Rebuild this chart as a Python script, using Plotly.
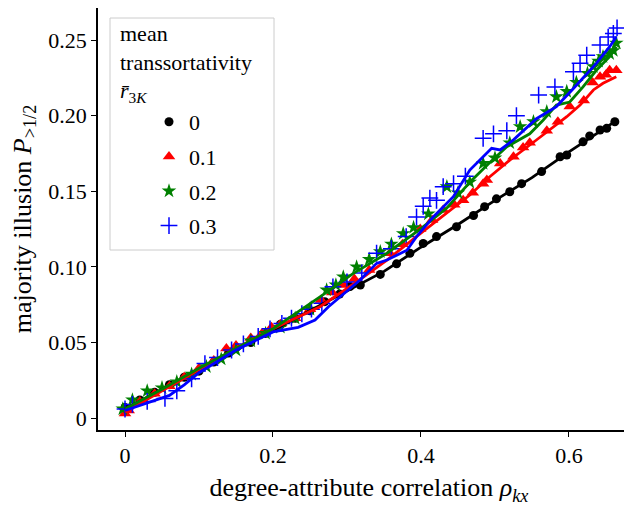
import plotly.graph_objects as go

# values
LABELS = ["0", "0.1", "0.2", "0.3"]
COLORS = ["black", "red", "green", "blue"]
SYMBOLS = ["circle", "triangle-up", "star", "cross-thin"]

# markers (simulation points)
x0 = [0.0, 0.02, 0.04, 0.06, 0.08, 0.10, 0.12, 0.14, 0.17, 0.19, 0.21, 0.23, 0.25, 0.27, 0.29,
      0.304, 0.318, 0.345, 0.367, 0.385, 0.403, 0.421, 0.448, 0.471, 0.486, 0.502, 0.520, 0.536,
      0.563, 0.588, 0.597, 0.619, 0.628, 0.642, 0.651, 0.662]
y0 = [0.007, 0.012, 0.017, 0.022, 0.027, 0.031, 0.037, 0.043, 0.050, 0.056, 0.062, 0.066, 0.071,
      0.077, 0.082, 0.087, 0.088, 0.095, 0.102, 0.109, 0.1155, 0.120, 0.1265, 0.134, 0.1398, 0.145,
      0.1497, 0.155, 0.163, 0.1728, 0.174, 0.1827, 0.1866, 0.1905, 0.1916, 0.196]

x1 = [0.0, 0.005, 0.02, 0.04, 0.06, 0.08, 0.10, 0.12, 0.137, 0.15, 0.17, 0.185, 0.198, 0.21, 0.23,
      0.25, 0.265, 0.28, 0.295, 0.31, 0.33, 0.358, 0.375, 0.399, 0.415, 0.430, 0.445, 0.457, 0.470,
      0.484, 0.489, 0.507, 0.525, 0.538, 0.547, 0.570, 0.585, 0.601, 0.62, 0.632, 0.642, 0.650,
      0.655, 0.664]
y1 = [0.003, 0.005, 0.011, 0.016, 0.021, 0.027, 0.033, 0.038, 0.046, 0.048, 0.053, 0.056, 0.060,
      0.062, 0.066, 0.072, 0.078, 0.083, 0.088, 0.092, 0.098, 0.109, 0.115, 0.125, 0.131, 0.1376,
      0.141, 0.144, 0.149, 0.155, 0.1574, 0.1684, 0.1728, 0.179, 0.182, 0.190, 0.196, 0.206, 0.210,
      0.222, 0.2257, 0.227, 0.230, 0.230]

x2 = [-0.003, 0.01, 0.03, 0.05, 0.07, 0.09, 0.11, 0.13, 0.15, 0.17, 0.19, 0.21, 0.23, 0.25, 0.2725,
      0.285, 0.295, 0.313, 0.33, 0.345, 0.36, 0.376, 0.39, 0.41, 0.435, 0.45, 0.466, 0.484, 0.50,
      0.52, 0.534, 0.552, 0.570, 0.583, 0.597, 0.61, 0.625, 0.633, 0.64, 0.646, 0.655, 0.66, 0.664]
y2 = [0.006, 0.012, 0.018, 0.020, 0.024, 0.029, 0.034, 0.039, 0.045, 0.051, 0.056, 0.060, 0.066,
      0.072, 0.0847, 0.088, 0.0934, 0.100, 0.105, 0.110, 0.115, 0.122, 0.126, 0.135, 0.153, 0.149,
      0.156, 0.1684, 0.172, 0.182, 0.1927, 0.196, 0.2026, 0.2125, 0.216, 0.222, 0.228, 0.2324,
      0.236, 0.239, 0.241, 0.243, 0.248]

x3 = [0.0, 0.01, 0.03, 0.054, 0.07, 0.09, 0.108, 0.125, 0.144, 0.16, 0.18, 0.196, 0.212, 0.225,
      0.239, 0.252, 0.266, 0.281, 0.30, 0.32, 0.340, 0.36, 0.38, 0.394, 0.403, 0.412, 0.421, 0.430,
      0.444, 0.46, 0.484, 0.498, 0.516, 0.529, 0.559, 0.581, 0.606, 0.615, 0.624, 0.642, 0.653,
      0.66, 0.665]
y3 = [0.006, 0.009, 0.011, 0.013, 0.018, 0.026, 0.036, 0.040, 0.045, 0.049, 0.054, 0.059, 0.0626,
      0.066, 0.069, 0.072, 0.0759, 0.0868, 0.090, 0.096, 0.109, 0.112, 0.120, 0.133, 0.140, 0.1455,
      0.144, 0.153, 0.155, 0.160, 0.185, 0.188, 0.190, 0.200, 0.2136, 0.219, 0.229, 0.2346, 0.240,
      0.2467, 0.252, 0.2544, 0.258]

# smoothed curves
lx0 = [0, 0.05, 0.1, 0.15, 0.2, 0.25, 0.3, 0.35, 0.4, 0.45, 0.5, 0.55, 0.6, 0.65, 0.665]
ly0 = [0.006, 0.019, 0.032, 0.045, 0.058, 0.071, 0.084, 0.097, 0.113, 0.128, 0.144, 0.159, 0.176,
       0.192, 0.197]

lx1 = [0, 0.05, 0.1, 0.15, 0.2, 0.2635, 0.31, 0.354, 0.399, 0.435, 0.466, 0.493, 0.520, 0.556,
       0.597, 0.615, 0.633, 0.646, 0.664]
ly1 = [0.004, 0.018, 0.032, 0.046, 0.059, 0.0736, 0.089, 0.1045, 0.122, 0.1354, 0.1475, 0.1596,
       0.1706, 0.1839, 0.1993, 0.207, 0.217, 0.2214, 0.2257]

lx2 = [0, 0.05, 0.1, 0.15, 0.2, 0.2635, 0.3086, 0.354, 0.399, 0.435, 0.468, 0.493, 0.516, 0.547,
       0.565, 0.583, 0.601, 0.619, 0.637, 0.655, 0.664]
ly2 = [0.006, 0.019, 0.033, 0.046, 0.059, 0.0802, 0.0957, 0.109, 0.125, 0.139, 0.157, 0.169,
       0.1794, 0.188, 0.197, 0.207, 0.209, 0.219, 0.230, 0.239, 0.2456]

lx3 = [0, 0.03, 0.06, 0.08, 0.1, 0.15, 0.2, 0.234, 0.2568, 0.275, 0.3176, 0.340, 0.354, 0.381,
       0.394, 0.4166, 0.4437, 0.466, 0.4955, 0.507, 0.525, 0.556, 0.583, 0.606, 0.637, 0.655, 0.664]
ly3 = [0.005, 0.010, 0.015, 0.022, 0.030, 0.045, 0.057, 0.060, 0.0648, 0.0736, 0.0913, 0.1023,
       0.1045, 0.111, 0.120, 0.133, 0.1464, 0.164, 0.1784, 0.1773, 0.184, 0.198, 0.206, 0.218,
       0.2346, 0.2456, 0.252]

XTICKS = [0, 0.2, 0.4, 0.6]
XTICKTEXT = ["0", "0.2", "0.4", "0.6"]
YTICKS = [0, 0.05, 0.10, 0.15, 0.20, 0.25]
YTICKTEXT = ["0", "0.05", "0.10", "0.15", "0.20", "0.25"]

FONT = "Liberation Serif"
FS = 22
PW, PH = 542, 422  # plot area size in px
points = [(x0, y0), (x1, y1), (x2, y2), (x3, y3)]
curves = [(lx0, ly0), (lx1, ly1), (lx2, ly2), (lx3, ly3)]
sizes = [9, 11, 11, 12]

fig = go.Figure()

for i, (px, py) in enumerate(points):
    marker = dict(color=COLORS[i], symbol=SYMBOLS[i], size=sizes[i])
    if SYMBOLS[i] == "cross-thin":
        marker["line"] = dict(color=COLORS[i], width=1.5)
    fig.add_trace(go.Scatter(x=px, y=py, mode="markers", name=LABELS[i], marker=marker,
                             legendgroup=LABELS[i]))

for i, (cx, cy) in enumerate(curves):
    fig.add_trace(go.Scatter(x=cx, y=cy, mode="lines", line=dict(color=COLORS[i], width=2.8),
                             showlegend=False, hoverinfo="skip"))

# legend frame and title (matplotlib style)
fig.add_shape(type="rect", xref="paper", yref="paper", x0=12 / PW, x1=176 / PW,
              y0=1 - 242 / PH, y1=1 - 10 / PH, line=dict(color="#cccccc", width=1),
              fillcolor="rgba(255,255,255,0.8)", layer="below")
fig.add_annotation(xref="paper", yref="paper", x=20 / PW, y=1 - 11 / PH, xanchor="left",
                   yanchor="top", align="left", showarrow=False,
                   text="mean<br>transsortativity<br><i>r̄</i><sub>3<i>K</i></sub>",
                   font=dict(family=FONT, size=FS, color="black"))

fig.update_layout(
    width=632, height=506,
    margin=dict(l=90, r=0, t=0, b=84),
    plot_bgcolor="white", paper_bgcolor="white",
    font=dict(family=FONT, size=FS, color="black"),
    showlegend=True,
    legend=dict(x=51 / PW, y=1 - 93 / PH, xanchor="left", yanchor="top",
                bgcolor="rgba(0,0,0,0)", borderwidth=0, tracegroupgap=3,
                font=dict(family=FONT, size=FS)),
    xaxis=dict(range=[-0.0365, 0.696], tickvals=XTICKS, ticktext=XTICKTEXT,
               showgrid=False, zeroline=False, showline=True, linecolor="black",
               linewidth=1.5, mirror=True, ticks="outside", ticklen=5, tickcolor="black",
               automargin=False,
               title=dict(text="degree-attribute correlation <i>ρ</i><sub><i>kx</i></sub>",
                          standoff=11)),
    yaxis=dict(range=[-0.0079, 0.2712], tickvals=YTICKS, ticktext=YTICKTEXT,
               showgrid=False, zeroline=False, showline=True, linecolor="black",
               linewidth=1.5, ticks="outside", ticklen=5, tickcolor="black",
               automargin=False,
               title=dict(text="majority illusion <i>P</i><sub>>1/2</sub>", standoff=18)),
)

fig.write_html("out.html")
